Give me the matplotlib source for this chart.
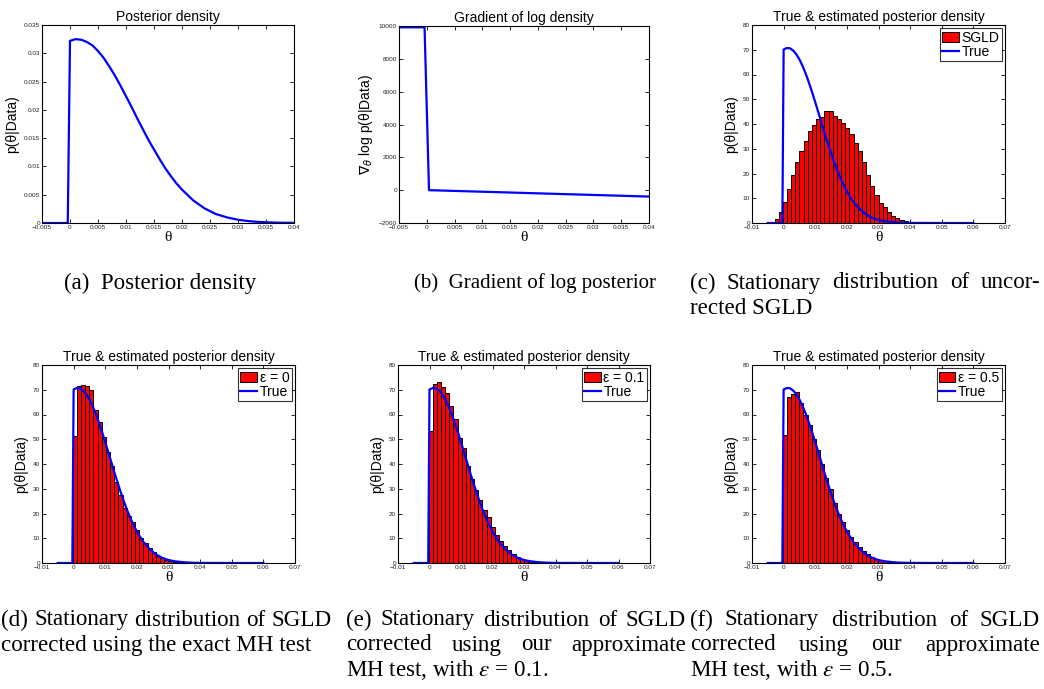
import numpy as np
import matplotlib
matplotlib.use("Agg")
import matplotlib.pyplot as plt
from matplotlib.patches import Patch
from matplotlib.lines import Line2D

W, H = 1044, 689
SANS = "Liberation Sans"
SERIF = "Liberation Serif"
plt.rcParams['font.family'] = [SANS, 'DejaVu Sans']

# ---------------- data ----------------
# (a) posterior density
post_theta = [-0.005, -0.0004, 0.0, 0.001, 0.002, 0.003, 0.004, 0.005, 0.006, 0.007,
              0.008, 0.009, 0.010, 0.011, 0.012, 0.013, 0.014, 0.015, 0.016, 0.017,
              0.018, 0.019, 0.020, 0.022, 0.024, 0.026, 0.028, 0.030, 0.032, 0.034,
              0.036, 0.038, 0.040]
post_dens = [0, 0, 0.0322, 0.0325, 0.0324, 0.0320, 0.0314, 0.0304, 0.0292, 0.0277,
             0.0261, 0.0243, 0.0224, 0.0205, 0.0185, 0.0166, 0.0147, 0.0130, 0.0113, 0.0097,
             0.0083, 0.0070, 0.0059, 0.0040, 0.0026, 0.0016, 0.0010, 0.00057, 0.00032, 0.00017,
             0.00009, 0.00004, 0.00002]

# (b) gradient of log density
grad_theta = [-0.005, -0.0004, 0.0004, 0.04]
grad_vals = [9920, 9920, 0, -390]

# true density in histogram units (panels c-f)
true_theta = [-0.005, -0.0004, 0.0, 0.001, 0.002, 0.003, 0.004, 0.005, 0.006, 0.007,
              0.008, 0.009, 0.010, 0.011, 0.012, 0.013, 0.014, 0.015, 0.016, 0.017,
              0.018, 0.019, 0.020, 0.022, 0.024, 0.026, 0.028, 0.030, 0.032, 0.034,
              0.036, 0.038, 0.040, 0.050, 0.060]
true_vals = [0, 0, 70.1, 70.7, 70.6, 69.7, 68.2, 66.1, 63.4, 60.3,
             56.7, 52.9, 48.8, 44.6, 40.4, 36.1, 32.1, 28.2, 24.5, 21.1,
             18.0, 15.2, 12.7, 8.6, 5.7, 3.5, 2.1, 1.2, 0.7, 0.4,
             0.2, 0.1, 0.04, 0, 0]

bin_width = 0.001316
# histogram heights; first bin left edges
sgld_start = -0.0042
sgld_hist = [0.6, 1.7, 4.6, 8.5, 13.7, 19.3, 24.5, 29.0, 33.1, 37.0, 39.6, 42.2, 43.0,
             45.3, 45.3, 43.4, 42.2, 40.3, 38.5, 35.8, 32.5, 29.1, 24.5, 19.4, 15.1,
             11.3, 8.2, 6.3, 4.3, 3.0, 1.9, 1.2, 0.8, 0.5, 0.3]
eps0_start = -0.0003
eps0_hist = [51.3, 71.5, 71.9, 71.4, 69.8, 61.8, 56.8, 50.8, 44.7, 39.1, 32.9, 27.5,
             22.2, 19.0, 16.4, 13.5, 10.2, 7.9, 5.9, 4.3, 3.0, 2.0, 1.3, 0.9, 0.5,
             0.3, 0.2, 0.1]
eps01_start = -0.0003
eps01_hist = [53.2, 72.2, 73.1, 71.0, 68.8, 63.5, 58.3, 50.7, 46.3, 39.2, 34.0, 29.5,
              25.5, 21.5, 18.4, 14.7, 11.5, 9.0, 6.9, 5.1, 3.7, 2.6, 1.7, 1.1, 0.7,
              0.4, 0.2, 0.1]
eps05_start = -0.0003
eps05_hist = [51.7, 67.2, 68.3, 69.2, 64.8, 59.8, 55.6, 50.2, 45.7, 40.1, 34.5, 30.0,
              24.4, 19.8, 16.5, 13.3, 10.4, 8.3, 6.5, 5.0, 3.7, 2.6, 1.8, 1.2, 0.8,
              0.5, 0.3, 0.2, 0.1]

xt_a = [-0.005, 0, 0.005, 0.01, 0.015, 0.02, 0.025, 0.03, 0.035, 0.04]
xtl_a = ['\u22120.005', '0', '0.005', '0.01', '0.015', '0.02', '0.025', '0.03', '0.035', '0.04']
yt_a = [0, 0.005, 0.01, 0.015, 0.02, 0.025, 0.03, 0.035]
ytl_a = ['0', '0.005', '0.01', '0.015', '0.02', '0.025', '0.03', '0.035']
yt_b = [-2000, 0, 2000, 4000, 6000, 8000, 10000]
ytl_b = ['\u22122000', '0', '2000', '4000', '6000', '8000', '10000']
xt_h = [-0.01, 0, 0.01, 0.02, 0.03, 0.04, 0.05, 0.06, 0.07]
xtl_h = ['\u22120.01', '0', '0.01', '0.02', '0.03', '0.04', '0.05', '0.06', '0.07']
yt_h = [0, 10, 20, 30, 40, 50, 60, 70, 80]
ytl_h = [str(v) for v in yt_h]

# ---------------- figure ----------------
fig = plt.figure(figsize=(W / 100, H / 100), dpi=100)


def make_ax(l, t, r, b):
    ax = fig.add_axes([l / W, 1 - b / H, (r - l) / W, (b - t) / H])
    for s in ax.spines.values():
        s.set_linewidth(0.8)
    ax.tick_params(direction='in', length=3, width=0.6, top=True, right=True,
                   labelsize=4.6, pad=1.5, labelcolor='#222222')
    return ax


def style(ax, title, ylabel, xt, xtl, yt, ytl, xlim, ylim):
    ax.set_xlim(*xlim)
    ax.set_ylim(*ylim)
    ax.set_xticks(xt)
    ax.set_xticklabels(xtl)
    ax.set_yticks(yt)
    ax.set_yticklabels(ytl)
    ax.set_title(title, fontsize=10, pad=3)
    ax.set_ylabel(ylabel, fontsize=10, labelpad=3)
    ax.set_xlabel('\u03b8', fontsize=11, family=SERIF, labelpad=0.5)


blue = '#0000FF'

# (a)
ax = make_ax(42, 25, 294, 223)
ax.plot(post_theta, post_dens, color=blue, lw=1.6)
style(ax, 'Posterior density', 'p(\u03b8|Data)', xt_a, xtl_a, yt_a, ytl_a,
      (-0.005, 0.04), (0, 0.035))

# (b)
ax = make_ax(399, 26, 649, 223)
ax.plot(grad_theta, grad_vals, color=blue, lw=1.6)
style(ax, 'Gradient of log density', '$\\nabla_{\\theta}$ log p(\u03b8|Data)',
      xt_a, xtl_a, yt_b, ytl_b, (-0.005, 0.04), (-2000, 10000))


def hist_panel(l, t, r, b, start, heights, label):
    ax = make_ax(l, t, r, b)
    lefts = start + bin_width * np.arange(len(heights))
    ax.bar(lefts, heights, width=bin_width, align='edge', color='#FF0000',
           edgecolor='black', linewidth=0.7, zorder=2)
    ax.plot(true_theta, true_vals, color=blue, lw=1.6, zorder=3)
    style(ax, 'True & estimated posterior density', 'p(\u03b8|Data)',
          xt_h, xtl_h, yt_h, ytl_h, (-0.01, 0.07), (0, 80))
    handles = [Patch(facecolor='#FF0000', edgecolor='black', linewidth=0.7),
               Line2D([], [], color=blue, lw=1.6)]
    leg = ax.legend(handles, [label, 'True'], loc='upper right', fontsize=10,
                    frameon=True, fancybox=False, borderpad=0.15, labelspacing=0.05,
                    handlelength=1.2, handletextpad=0.2, borderaxespad=0.25)
    leg.get_frame().set_edgecolor('black')
    leg.get_frame().set_linewidth(0.8)
    return ax


hist_panel(752, 25, 1005, 223, sgld_start, sgld_hist, 'SGLD')
hist_panel(42, 365, 295, 563, eps0_start, eps0_hist, '\u03b5 = 0')
hist_panel(398, 365, 650, 563, eps01_start, eps01_hist, '\u03b5 = 0.1')
hist_panel(752, 365, 1005, 563, eps05_start, eps05_hist, '\u03b5 = 0.5')

# ---------------- captions ----------------
CFS = 16.6
renderer = fig.canvas.get_renderer()


def ctext(x, y, s, ha='left', fs=CFS):
    return fig.text(x / W, 1 - y / H, s, fontsize=fs, family=SERIF, ha=ha,
                    va='center', math_fontfamily='stix')


def justified(words, x0, x1, y):
    texts = [ctext(0, y, w_) for w_ in words]
    widths = [t.get_window_extent(renderer).width for t in texts]
    gap = (x1 - x0 - sum(widths)) / (len(words) - 1)
    x = x0
    for t, wd in zip(texts, widths):
        t.set_x(x / W)
        x += wd + gap


ctext(160, 283, '(a)  Posterior density', ha='center')
ctext(535, 283, '(b)  Gradient of log posterior', ha='center', fs=15)
justified(['(c)', 'Stationary', 'distribution', 'of', 'uncor-'], 690, 1040, 283)
ctext(690, 308, 'rected SGLD')

justified(['(d)', 'Stationary', 'distribution', 'of', 'SGLD'], 1, 332, 620)
ctext(1, 645, 'corrected using the exact MH test')

justified(['(e)', 'Stationary', 'distribution', 'of', 'SGLD'], 346, 686, 620)
justified(['corrected', 'using', 'our', 'approximate'], 346, 686, 645)
ctext(346, 670, r'MH test, with $\epsilon$ = 0.1.')

justified(['(f)', 'Stationary', 'distribution', 'of', 'SGLD'], 690, 1040, 620)
justified(['corrected', 'using', 'our', 'approximate'], 690, 1040, 645)
ctext(690, 670, r'MH test, with $\epsilon$ = 0.5.')

fig.savefig('out.png', dpi=100)
